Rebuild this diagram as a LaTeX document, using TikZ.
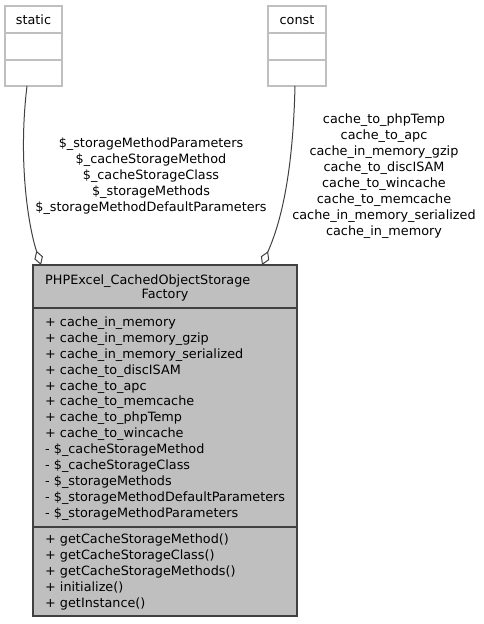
\documentclass[tikz,border=0pt]{standalone}
\usepackage{fontspec}
\setmainfont{DejaVu Sans}
\usetikzlibrary{arrows.meta,calc}
\definecolor{boxgray}{HTML}{BFBFBF}
\definecolor{edgegray}{HTML}{404040}
\definecolor{lightborder}{HTML}{BFBFBF}
\tikzset{
  txt/.style={inner sep=0pt, font=\fontsize{12.8}{15.9}\selectfont},
  lbl/.style={txt, align=center, anchor=base},
  rows/.style={txt, align=left, anchor=base west},
  emptycls/.style={draw=lightborder, line width=1.1pt, fill=white},
  maincls/.style={draw=edgegray, line width=1.1pt, fill=boxgray},
  assoc/.style={draw=edgegray, line width=1pt, -{Diamond[open, length=15pt, width=9pt]}},
}
\begin{document}
\begin{tikzpicture}[x=1pt,y=-1pt]
\useasboundingbox (0,0) rectangle (483,624);
% static box
\draw[emptycls] (5,6) rectangle (62,86);
\draw[lightborder, line width=1.1pt] (5,33) -- (62,33) (5,60) -- (62,60);
\node[lbl] (static) at (33.5,24) {static};
\coordinate (staticout) at (27,86);
% const box
\draw[emptycls] (268,6) rectangle (326,86);
\draw[lightborder, line width=1.1pt] (268,33) -- (326,33) (268,60) -- (326,60);
\node[lbl] (const) at (297,24) {const};
\coordinate (constout) at (295,86);
% main class
\draw[maincls] (33,265) rectangle (297,616);
\draw[edgegray, line width=1.1pt] (33,308) -- (297,308) (33,527) -- (297,527);
\node[rows] (title1) at (45,284) {PHPExcel\_CachedObjectStorage};
\node[lbl] (title2) at (165,298) {Factory};
\coordinate (mainin1) at (41,265);
\coordinate (mainin2) at (262,265);
\node[rows, anchor=north west] (attrs) at (45,316.5) {%
+ cache\_in\_memory\\
+ cache\_in\_memory\_gzip\\
+ cache\_in\_memory\_serialized\\
+ cache\_to\_discISAM\\
+ cache\_to\_apc\\
+ cache\_to\_memcache\\
+ cache\_to\_phpTemp\\
+ cache\_to\_wincache\\
- \$\_cacheStorageMethod\\
- \$\_cacheStorageClass\\
- \$\_storageMethods\\
- \$\_storageMethodDefaultParameters\\
- \$\_storageMethodParameters};
\node[rows, anchor=north west] (ops) at (45,534) {%
+ getCacheStorageMethod()\\
+ getCacheStorageClass()\\
+ getCacheStorageMethods()\\
+ initialize()\\
+ getInstance()};
% edges
\draw[assoc] (staticout) .. controls (18,160) and (28,225) .. (mainin1);
\draw[assoc] (constout) .. controls (293,170) and (282,220) .. (mainin2);
% labels
\node[lbl, anchor=north] (leftlbl) at (151,138) {\$\_storageMethodParameters\\\$\_cacheStorageMethod\\\$\_cacheStorageClass\\\$\_storageMethods\\\$\_storageMethodDefaultParameters};
\node[lbl, anchor=north] (rightlbl) at (384,114) {cache\_to\_phpTemp\\cache\_to\_apc\\cache\_in\_memory\_gzip\\cache\_to\_discISAM\\cache\_to\_wincache\\cache\_to\_memcache\\cache\_in\_memory\_serialized\\cache\_in\_memory};
\end{tikzpicture}
\end{document}
